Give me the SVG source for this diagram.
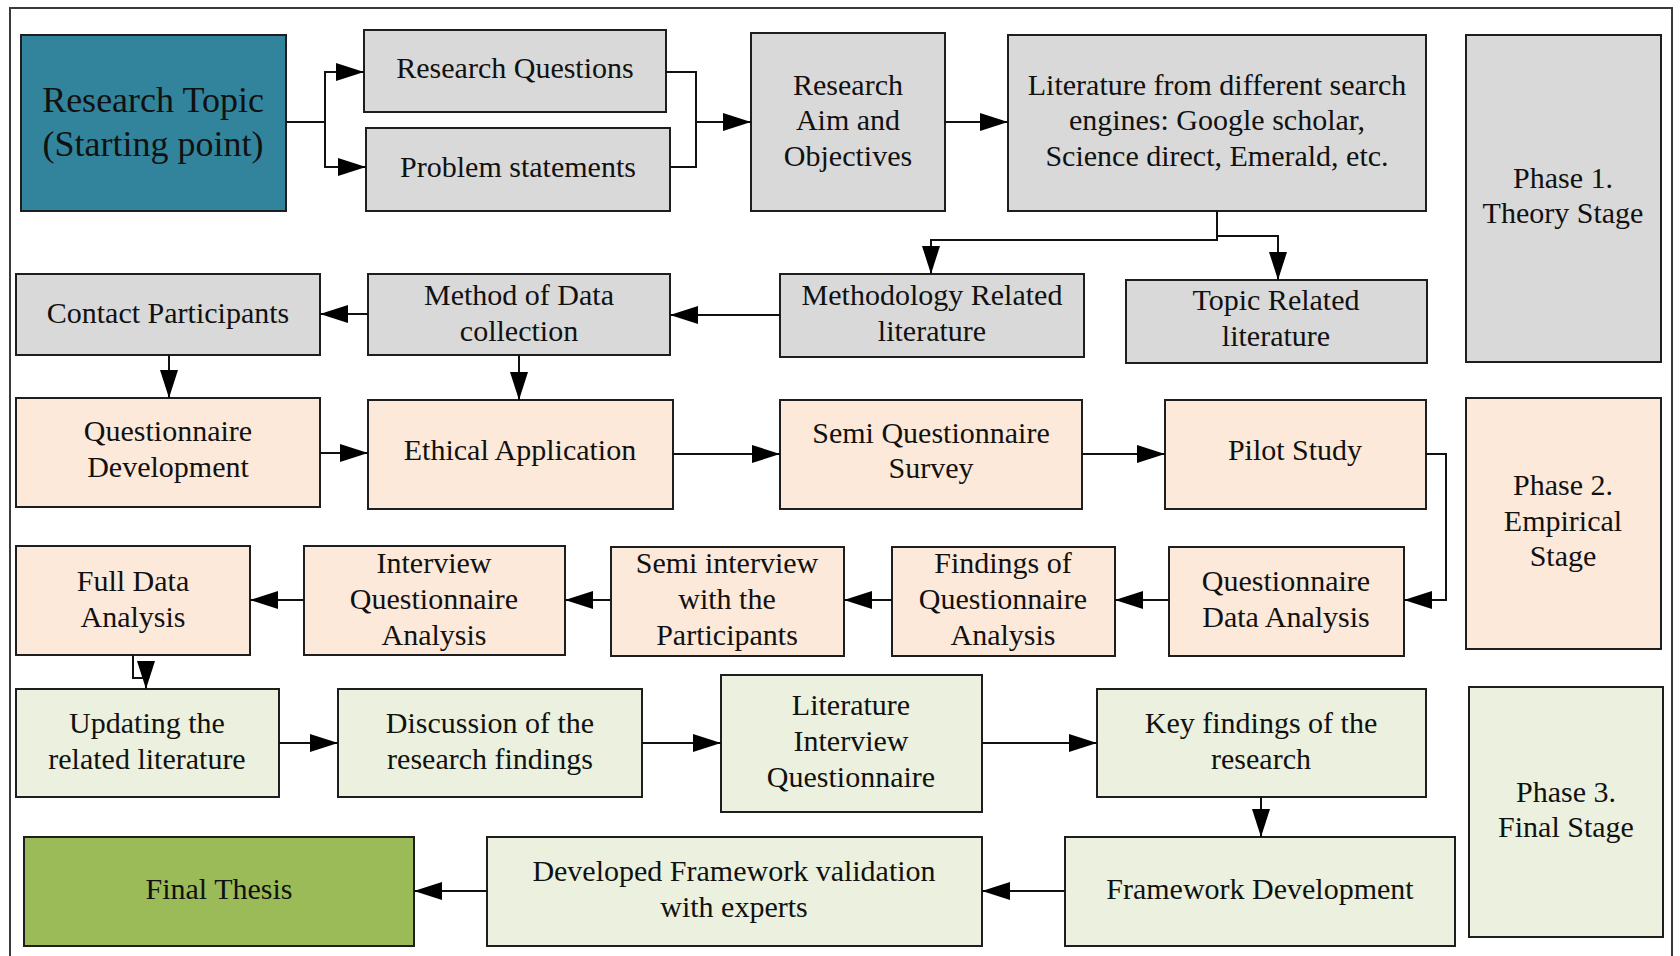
<svg xmlns="http://www.w3.org/2000/svg" width="1680" height="956" viewBox="0 0 1680 956" font-family="'Liberation Serif', 'DejaVu Serif', serif">
  <style>
    .box { stroke: #1e1e1e; stroke-width: 2; }
    .grey { fill: #d9d9d9; }
    .teal { fill: #31849b; }
    .peach { fill: #fde9d9; }
    .mint { fill: #ebf1de; }
    .olive { fill: #9bbb59; }
    text { font-family: 'Liberation Serif', 'DejaVu Serif', serif; font-size: 30px; fill: #111; text-anchor: middle; dominant-baseline: central; }
    .big { font-size: 36px; }
    .edge { fill: none; stroke: #111; stroke-width: 2; }
    .arrow { marker-end: url(#head); }
  </style>
  <defs>
    <marker id="head" markerUnits="userSpaceOnUse" markerWidth="28" markerHeight="18" refX="28" refY="9" orient="auto" viewBox="0 0 28 18">
      <path d="M0,0 L28,9 L0,18 z" fill="#000"/>
    </marker>
  </defs>

  <rect width="1680" height="956" fill="#ffffff"/>
  <!-- outer frame (bottom edge runs off the page) -->
  <rect x="10" y="8" width="1662" height="970" fill="none" stroke="#3a3a3a" stroke-width="2"/>

  <!-- Phase 1: theory -->
  <g id="research-topic"><rect class="box teal" x="21" y="35" width="265" height="176"/>
    <text class="big" x="153" y="100">Research Topic</text><text class="big" x="153" y="144">(Starting point)</text></g>
  <g id="research-questions"><rect class="box grey" x="364" y="30" width="302" height="82"/>
    <text x="515" y="67">Research Questions</text></g>
  <g id="problem-statements"><rect class="box grey" x="366" y="128" width="304" height="83"/>
    <text x="518" y="166">Problem statements</text></g>
  <g id="aim-objectives"><rect class="box grey" x="751" y="33" width="194" height="178"/>
    <text x="848" y="84">Research</text><text x="848" y="119">Aim and</text><text x="848" y="155">Objectives</text></g>
  <g id="literature-search"><rect class="box grey" x="1008" y="35" width="418" height="176"/>
    <text x="1217" y="84">Literature from different search</text><text x="1217" y="119">engines: Google scholar,</text><text x="1217" y="155">Science direct, Emerald, etc.</text></g>
  <g id="phase-1"><rect class="box grey" x="1466" y="35" width="195" height="327"/>
    <text x="1563" y="177">Phase 1.</text><text x="1563" y="212">Theory Stage</text></g>
  <g id="methodology-literature"><rect class="box grey" x="780" y="274" width="304" height="83"/>
    <text x="932" y="294">Methodology Related</text><text x="932" y="330">literature</text></g>
  <g id="topic-literature"><rect class="box grey" x="1126" y="280" width="301" height="83"/>
    <text x="1276" y="299">Topic Related</text><text x="1276" y="335">literature</text></g>
  <g id="data-collection-method"><rect class="box grey" x="368" y="274" width="302" height="81"/>
    <text x="519" y="294">Method of Data</text><text x="519" y="330">collection</text></g>
  <g id="contact-participants"><rect class="box grey" x="16" y="274" width="304" height="81"/>
    <text x="168" y="312">Contact Participants</text></g>

  <!-- Phase 2: empirical -->
  <g id="questionnaire-development"><rect class="box peach" x="16" y="398" width="304" height="109"/>
    <text x="168" y="430">Questionnaire</text><text x="168" y="466">Development</text></g>
  <g id="ethical-application"><rect class="box peach" x="368" y="400" width="305" height="109"/>
    <text x="520" y="449">Ethical Application</text></g>
  <g id="semi-questionnaire-survey"><rect class="box peach" x="780" y="400" width="302" height="109"/>
    <text x="931" y="432">Semi Questionnaire</text><text x="931" y="467">Survey</text></g>
  <g id="pilot-study"><rect class="box peach" x="1165" y="400" width="261" height="109"/>
    <text x="1295" y="449">Pilot Study</text></g>
  <g id="phase-2"><rect class="box peach" x="1466" y="398" width="195" height="251"/>
    <text x="1563" y="484">Phase 2.</text><text x="1563" y="520">Empirical</text><text x="1563" y="555">Stage</text></g>
  <g id="questionnaire-data-analysis"><rect class="box peach" x="1169" y="547" width="235" height="109"/>
    <text x="1286" y="580">Questionnaire</text><text x="1286" y="616">Data Analysis</text></g>
  <g id="questionnaire-findings"><rect class="box peach" x="892" y="547" width="223" height="109"/>
    <text x="1003" y="562">Findings of</text><text x="1003" y="598">Questionnaire</text><text x="1003" y="634">Analysis</text></g>
  <g id="semi-interview"><rect class="box peach" x="611" y="547" width="233" height="109"/>
    <text x="727" y="562">Semi interview</text><text x="727" y="598">with the</text><text x="727" y="634">Participants</text></g>
  <g id="interview-analysis"><rect class="box peach" x="304" y="546" width="261" height="109"/>
    <text x="434" y="562">Interview</text><text x="434" y="598">Questionnaire</text><text x="434" y="634">Analysis</text></g>
  <g id="full-data-analysis"><rect class="box peach" x="16" y="546" width="234" height="109"/>
    <text x="133" y="580">Full Data</text><text x="133" y="616">Analysis</text></g>

  <!-- Phase 3: final -->
  <g id="updating-literature"><rect class="box mint" x="16" y="689" width="263" height="108"/>
    <text x="147" y="722">Updating the</text><text x="147" y="758">related literature</text></g>
  <g id="discussion"><rect class="box mint" x="338" y="689" width="304" height="108"/>
    <text x="490" y="722">Discussion of the</text><text x="490" y="758">research findings</text></g>
  <g id="literature-interview-questionnaire"><rect class="box mint" x="721" y="675" width="261" height="137"/>
    <text x="851" y="704">Literature</text><text x="851" y="740">Interview</text><text x="851" y="776">Questionnaire</text></g>
  <g id="key-findings"><rect class="box mint" x="1097" y="689" width="329" height="108"/>
    <text x="1261" y="722">Key findings of the</text><text x="1261" y="758">research</text></g>
  <g id="phase-3"><rect class="box mint" x="1469" y="687" width="194" height="250"/>
    <text x="1566" y="791">Phase 3.</text><text x="1566" y="826">Final Stage</text></g>
  <g id="framework-development"><rect class="box mint" x="1065" y="837" width="390" height="109"/>
    <text x="1260" y="888">Framework Development</text></g>
  <g id="framework-validation"><rect class="box mint" x="487" y="837" width="495" height="109"/>
    <text x="734" y="870">Developed Framework validation</text><text x="734" y="906">with experts</text></g>
  <g id="final-thesis"><rect class="box olive" x="24" y="837" width="390" height="109"/>
    <text x="219" y="888">Final Thesis</text></g>

  <g id="connectors">
    <path class="edge arrow" d="M286 122 H325 V72 H364"/>
    <path class="edge arrow" d="M325 122 V167 H366"/>
    <path class="edge" d="M666 72 H696 V167 H670"/>
    <path class="edge arrow" d="M696 122 H751"/>
    <path class="edge arrow" d="M945 122 H1008"/>
    <path class="edge arrow" d="M1217 211 V240 H931 V274"/>
    <path class="edge arrow" d="M1217 236 H1278 V280"/>
    <path class="edge arrow" d="M780 315 H670"/>
    <path class="edge arrow" d="M368 314 H320"/>
    <path class="edge arrow" d="M169 355 V398"/>
    <path class="edge arrow" d="M519 355 V400"/>
    <path class="edge arrow" d="M320 453 H368"/>
    <path class="edge arrow" d="M673 454 H780"/>
    <path class="edge arrow" d="M1082 454 H1165"/>
    <path class="edge arrow" d="M1426 454 H1446 V600 H1404"/>
    <path class="edge arrow" d="M1169 600 H1115"/>
    <path class="edge arrow" d="M892 600 H844"/>
    <path class="edge arrow" d="M611 600 H565"/>
    <path class="edge arrow" d="M304 600 H250"/>
    <path class="edge arrow" d="M133 655 V678 H146 V689"/>
    <path class="edge arrow" d="M279 743 H338"/>
    <path class="edge arrow" d="M642 743 H721"/>
    <path class="edge arrow" d="M982 743 H1097"/>
    <path class="edge arrow" d="M1261 797 V837"/>
    <path class="edge arrow" d="M1065 891 H982"/>
    <path class="edge arrow" d="M487 891 H414"/>
  </g>
</svg>
